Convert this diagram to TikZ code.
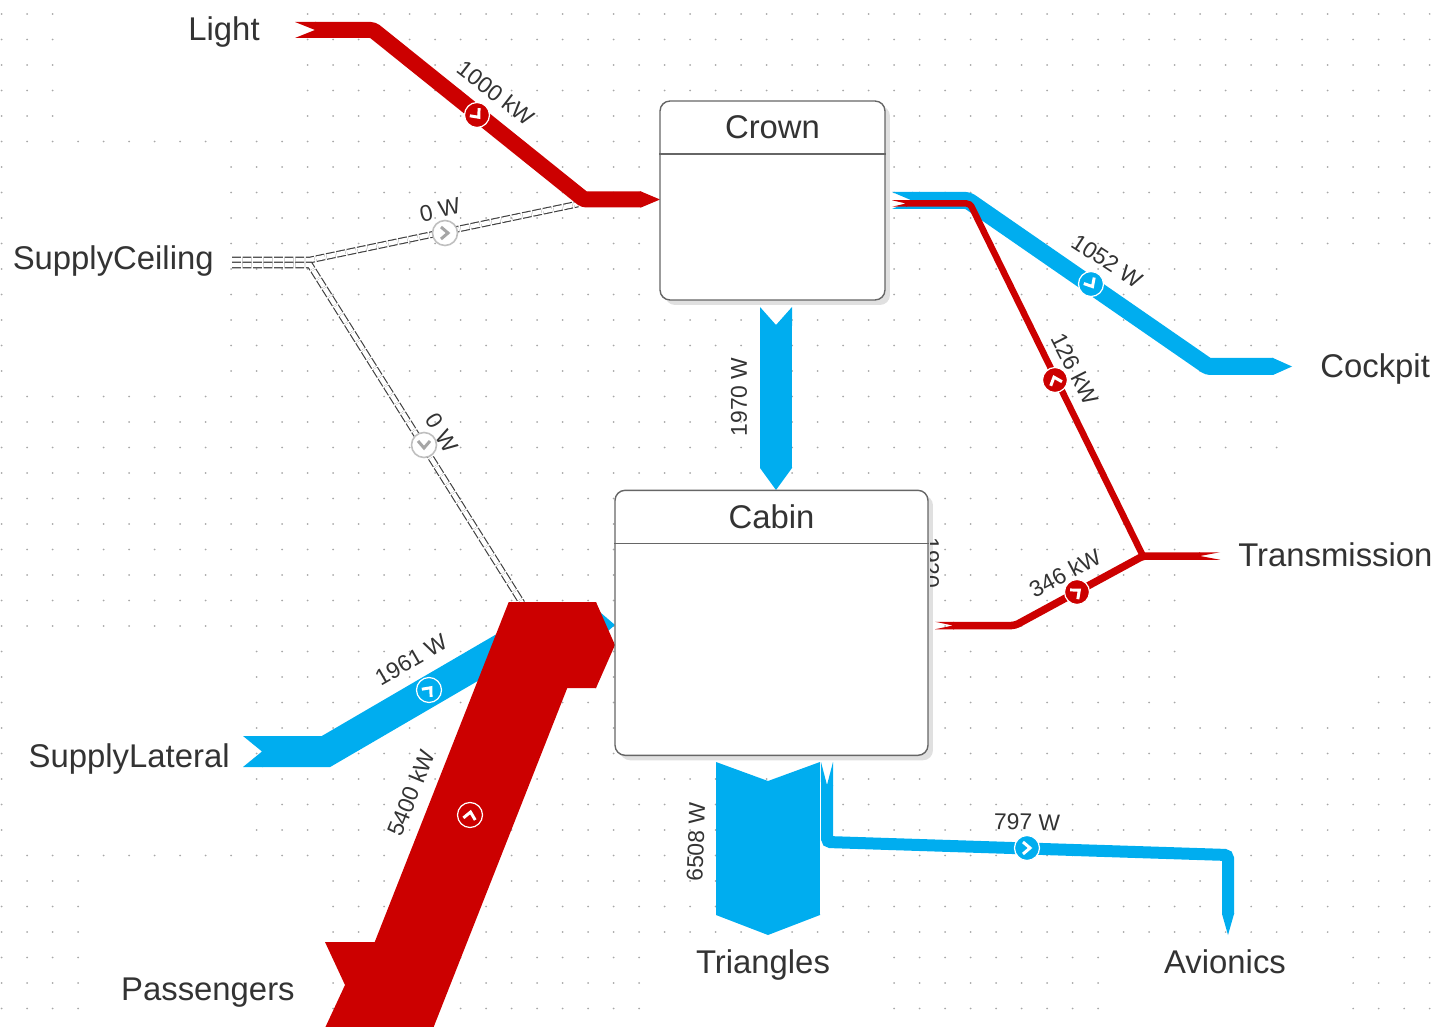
\documentclass[tikz,border=0pt]{standalone}
\usepackage{fontspec}
\setmainfont{Liberation Sans}
\usetikzlibrary{positioning,shadows}

\definecolor{flowred}{HTML}{CC0000}
\definecolor{flowblue}{HTML}{00ADEF}
\definecolor{inktext}{HTML}{333333}
\definecolor{griddot}{HTML}{A8A8A8}

% swallow tail and pointed head of a band: style, coordinate, angle, half width, length
\newcommand{\flowtail}[5]{\fill[#1, shift={(#2)}, rotate=#3] (0,0) -- (-#5,-#4) -- (1,-#4) -- (1,#4) -- (-#5,#4) -- cycle;}
\newcommand{\flowhead}[5]{\fill[#1, shift={(#2)}, rotate=#3] (-1,-#4) -- (0,-#4) -- (#5,0) -- (0,#4) -- (-1,#4) -- cycle;}
% round marker with chevron: name, style, chevron colour, position, angle
\newcommand{\flowbadge}[5]{%
  \node[#2] (#1) at (#4) {};
  \draw[#3, line width=1.7pt, shift={(#1.center)}, rotate=#5] (-4,-6) -- (3,0) -- (-4,6);}

\begin{document}
\begin{tikzpicture}[
    x=0.02cm, y=-0.02cm,
    every node/.style={text=inktext},
    redflow/.style={draw=flowred},
    blueflow/.style={draw=flowblue},
    redcap/.style={fill=flowred},
    bluecap/.style={fill=flowblue},
    band/.style={line width=#1*0.02cm, line cap=butt},
    supplyline/.style={draw=black!75, line width=0.65pt, double=white, double distance=2.5pt, dash pattern=on 5pt off 1pt},
    blockbox/.style={draw=black!60, line width=0.8pt, fill=white, rounded corners=0.2cm, inner sep=0pt,
        general shadow={fill=black!12, shadow xshift=0.1cm, shadow yshift=-0.1cm}},
    blocktitle/.style={font=\fontsize{18.7pt}{22pt}\selectfont, inner sep=0pt, minimum height=1.06cm},
    endlabel/.style={font=\fontsize{18.7pt}{22pt}\selectfont, inner sep=0pt},
    flowlabel/.style={font=\fontsize{13pt}{15pt}\selectfont, inner sep=0pt},
    redbadge/.style={circle, fill=flowred, draw=white, line width=0.7pt, minimum size=0.5cm, inner sep=0pt},
    bluebadge/.style={circle, fill=flowblue, draw=white, line width=0.7pt, minimum size=0.5cm, inner sep=0pt},
    greybadge/.style={circle, fill=white, draw=black!25, line width=0.9pt, minimum size=0.5cm, inner sep=0pt}
]

\useasboundingbox (0,0) rectangle (1441,1027);

% dotted grid
\foreach \i in {0,...,56}
  \foreach \j in {0,...,40}
    \fill[griddot] ({1.7+25.5*\i},{14+25.5*\j}) circle (0.55pt);

% white areas round the end labels
\foreach \xa/\ya/\xb/\yb in {65/0/298/130, 10/150/225/385, 10/640/245/845, 90/870/325/1027,
    1290/255/1441/460, 1190/460/1441/665, 1190/665/1370/715, 650/945/885/1027, 1115/945/1345/1027}
  \fill[white] (\xa,\ya) rectangle (\xb,\yb);

% waypoints of the bands
\coordinate (light-s) at (315,30);
\coordinate (light-a) at (373,30);
\coordinate (light-b) at (584,199.5);
\coordinate (light-e) at (641,199.5);
\coordinate (ceilA-s) at (232,260);
\coordinate (ceilA-a) at (310,260);
\coordinate (ceilA-e) at (578,204);
\coordinate (ceilB-s) at (232,265);
\coordinate (ceilB-a) at (310,265);
\coordinate (ceilB-e) at (522,603);
\coordinate (lateral-s) at (262,751.5);
\coordinate (lateral-a) at (326,751.5);
\coordinate (lateral-b) at (543,625);
\coordinate (lateral-e) at (597,625);
\coordinate (pass-s) at (345,985);
\coordinate (pass-a) at (404,985);
\coordinate (pass-b) at (538,645);
\coordinate (pass-e) at (596,645);
\coordinate (mid-s) at (776,325);
\coordinate (mid-e) at (776,468);
\coordinate (tri-s) at (768,781);
\coordinate (tri-e) at (768,915);
\coordinate (avi-s) at (827,785);
\coordinate (avi-a) at (827,842);
\coordinate (avi-b) at (1228,855);
\coordinate (avi-e) at (1228,914);
\coordinate (cock-s) at (912,200.5);
\coordinate (cock-a) at (968,200.5);
\coordinate (cock-b) at (1208,366.5);
\coordinate (cock-e) at (1273,366.5);
\coordinate (tranA-s) at (906,203.5);
\coordinate (tranA-a) at (970,203.5);
\coordinate (tranA-e) at (1143,556);
\coordinate (tranB-s) at (953,625.5);
\coordinate (tranB-a) at (1015,625.5);
\coordinate (tranB-b) at (1143,556);
\coordinate (tranB-e) at (1200,556);

% supply lines
\draw[supplyline] (ceilA-s) -- (ceilA-a) -- (ceilA-e);
\draw[supplyline] (ceilB-s) -- (ceilB-a) -- (ceilB-e);

% blue bands
\draw[blueflow, band=31, line join=miter] (lateral-s) -- (lateral-a) -- (lateral-b) -- (lateral-e);
\flowtail{bluecap}{lateral-s}{0}{15.5}{19}
\flowhead{bluecap}{lateral-e}{0}{15.5}{18}
\draw[blueflow, band=32] (mid-s) -- (mid-e);
\flowtail{bluecap}{mid-s}{-90}{16}{18}
\flowhead{bluecap}{mid-e}{-90}{16}{22}
\draw[blueflow, band=104] (tri-s) -- (tri-e);
\flowtail{bluecap}{tri-s}{-90}{52}{19}
\flowhead{bluecap}{tri-e}{-90}{52}{20}
\draw[blueflow, band=12, rounded corners=2pt] (avi-s) -- (avi-a) -- (avi-b) -- (avi-e);
\flowtail{bluecap}{avi-s}{-90}{6}{23}
\flowhead{bluecap}{avi-e}{-90}{6}{21}
\draw[blueflow, band=17, rounded corners=1.5pt] (cock-s) -- (cock-a) -- (cock-b) -- (cock-e);
\flowtail{bluecap}{cock-s}{0}{8.5}{20}
\flowhead{bluecap}{cock-e}{0}{8.5}{19}

% red bands
\draw[redflow, band=16, rounded corners=1.5pt] (light-s) -- (light-a) -- (light-b) -- (light-e);
\flowtail{redcap}{light-s}{0}{8}{20}
\flowhead{redcap}{light-e}{0}{8}{19}
\draw[redflow, band=86, line join=miter] (pass-s) -- (pass-a) -- (pass-b) -- (pass-e);
\flowtail{redcap}{pass-s}{0}{43}{20}
\flowhead{redcap}{pass-e}{0}{43}{19}
\draw[redflow, band=6.5, rounded corners=2pt] (tranA-s) -- (tranA-a) -- (tranA-e);
\flowtail{redcap}{tranA-s}{0}{3.25}{14}
\draw[redflow, band=7.5, rounded corners=2pt] (tranB-s) -- (tranB-a) -- (tranB-b) -- (tranB-e);
\flowtail{redcap}{tranB-s}{0}{3.75}{18}
\flowtail{redcap}{tranB-e}{180}{3.75}{20}

% blocks
\node[blockbox, minimum width=4.5cm, minimum height=3.98cm] (crown) at (772.5,200.5) {};
\node[blocktitle, below=0pt of crown.north] (crown-title) {Crown};
\draw[black!60, line width=0.7pt] (crown.west |- crown-title.south) -- (crown.east |- crown-title.south);
\node[blockbox, minimum width=6.26cm, minimum height=5.3cm, below=3.78cm of crown, xshift=-0.02cm] (cabin) {};
\node[blocktitle, below=0pt of cabin.north] (cabin-title) {Cabin};
\draw[black!60, line width=0.7pt] (cabin.west |- cabin-title.south) -- (cabin.east |- cabin-title.south);

% end labels
\node[endlabel, left=1.1cm of light-s, yshift=-0.04cm] (light) {Light};
\node[endlabel, left=0.36cm of ceilA-s, yshift=-0.02cm] (ceiling) {SupplyCeiling};
\node[endlabel, left=0.64cm of lateral-s, yshift=-0.16cm] (lateral) {SupplyLateral};
\node[endlabel, left=1cm of pass-s, yshift=-0.16cm] (passengers) {Passengers};
\node[endlabel, right=0.94cm of cock-e, yshift=-0.06cm] (cockpit) {Cockpit};
\node[endlabel, right=0.76cm of tranB-e, yshift=0.02cm] (transmission) {Transmission};
\node[endlabel, below=0.68cm of tri-e, xshift=-0.1cm] (triangles) {Triangles};
\node[endlabel, below=0.7cm of avi-e, xshift=-0.06cm] (avionics) {Avionics};

% flow markers
\flowbadge{mark-light}{redbadge}{white}{477,115}{-50}
\flowbadge{mark-ceilA}{greybadge}{black!35}{445,233}{0}
\flowbadge{mark-ceilB}{greybadge}{black!35}{424,445}{-90}
\flowbadge{mark-cock}{bluebadge}{white}{1091,284}{-60}
\flowbadge{mark-tranA}{redbadge}{white}{1055,380}{110}
\flowbadge{mark-tranB}{redbadge}{white}{1077,592}{40}
\flowbadge{mark-lateral}{bluebadge}{white}{429,690}{50}
\flowbadge{mark-pass}{redbadge}{white}{470,815}{80}
\flowbadge{mark-avi}{bluebadge}{white}{1027,848}{0}

% flow values
\node[flowlabel, rotate=-38] (val-light) at (496,93) {1000 kW};
\node[flowlabel, rotate=13] (val-ceilA) at (440,210) {0 W};
\node[flowlabel, rotate=-58] (val-ceilB) at (442,433) {0 W};
\node[flowlabel, rotate=-33] (val-cock) at (1107,261) {1052 W};
\node[flowlabel, rotate=-63] (val-tranA) at (1075,369) {126 kW};
\node[flowlabel, rotate=28] (val-tranB) at (1065,573) {346 kW};
\node[flowlabel, rotate=30] (val-lateral) at (411,660) {1961 W};
\node[flowlabel, rotate=68] (val-pass) at (411,793) {5400 kW};
\node[flowlabel, rotate=90] (val-mid) at (739,397) {1970 W};
\node[flowlabel, rotate=88] (val-tri) at (696,842) {6508 W};
\node[flowlabel, rotate=-1] (val-avi) at (1027,822) {797 W};
\begin{scope}
  \clip (930,530) rectangle (950,592);
  \node[flowlabel, rotate=-90, anchor=west] (val-cabin) at (931,537) {1920};
\end{scope}

\end{tikzpicture}
\end{document}
